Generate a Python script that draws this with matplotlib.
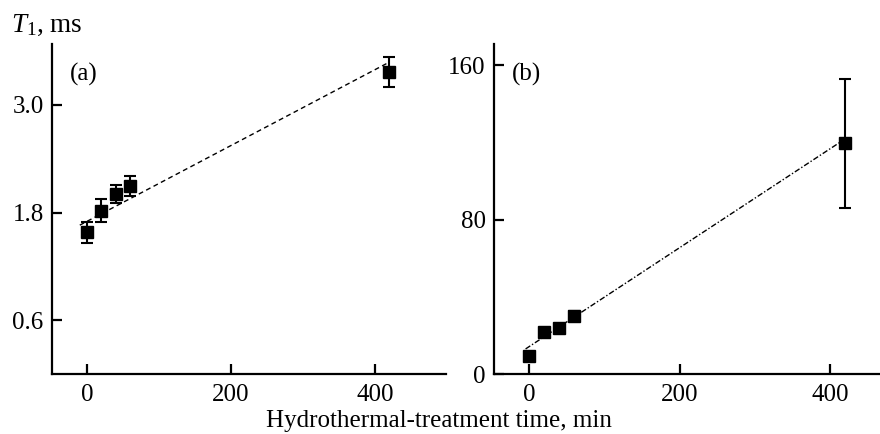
import matplotlib
matplotlib.use("Agg")
import matplotlib.pyplot as plt

plt.rcParams['font.family'] = ['Liberation Serif', 'DejaVu Serif']
plt.rcParams['mathtext.fontset'] = 'custom'
plt.rcParams['mathtext.rm'] = 'Liberation Serif'
plt.rcParams['mathtext.it'] = 'Liberation Serif:italic'

# hydrothermal-treatment time, min
time_min = [0, 20, 40, 60, 420]

# panel (a): T1, ms
t1_a = [1.58, 1.82, 2.01, 2.10, 3.37]
err_a = [0.12, 0.13, 0.10, 0.11, 0.17]
fit_a_x = [-10, 418]
fit_a_y = [1.66, 3.47]

# panel (b): T1, ms
t1_b = [9.5, 21.6, 23.7, 30.2, 119.6]
err_b = [1.0, 1.5, 2.0, 2.5, 33.5]
fit_b_x = [-5, 418]
fit_b_y = [13.0, 121.3]

fig = plt.figure(figsize=(8.8, 4.34), dpi=100)
ax_a = fig.add_axes([0.0591, 0.1382, 0.4477, 0.7604])
ax_b = fig.add_axes([0.5614, 0.1382, 0.4386, 0.7604])


def style(ax):
	for s in ["top", "right"]:
		ax.spines[s].set_visible(False)
	for s in ["left", "bottom"]:
		ax.spines[s].set_linewidth(1.6)
	ax.tick_params(direction="in", length=7, width=1.6, labelsize=18)
	ax.tick_params(axis="x", pad=7)
	ax.tick_params(axis="y", pad=6)


# (a)
ax_a.plot(fit_a_x, fit_a_y, color="black", lw=1.0, linestyle=(0, (3.5, 2.5)))
ax_a.errorbar(time_min, t1_a, yerr=err_a, fmt="s", color="black", ms=8,
	elinewidth=1.5, capsize=4.5, capthick=1.5)
ax_a.set_xlim(-48.6, 498.6)
ax_a.set_ylim(0.0, 3.68)
ax_a.set_xticks([0, 200, 400])
ax_a.set_yticks([0.6, 1.8, 3.0])
ax_a.set_yticklabels(["0.6", "1.8", "3.0"])
ax_a.text(0.045, 0.909, "(a)", transform=ax_a.transAxes, fontsize=18, va="center")
style(ax_a)

# (b)
ax_b.plot(fit_b_x, fit_b_y, color="black", lw=1.0, linestyle=(0, (4, 1.5, 1, 1.5)))
ax_b.errorbar(time_min, t1_b, yerr=err_b, fmt="s", color="black", ms=8,
	elinewidth=1.5, capsize=4.5, capthick=1.5)
ax_b.set_xlim(-47, 466.5)
ax_b.set_ylim(0, 171)
ax_b.set_xticks([0, 200, 400])
ax_b.set_yticks([0, 80, 160])
ax_b.text(0.045, 0.909, "(b)", transform=ax_b.transAxes, fontsize=18, va="center")
style(ax_b)

fig.text(0.013, 0.926, "$T_1$, ms", fontsize=19.5, va="baseline", ha="left")
fig.text(0.499, 0.017, "Hydrothermal-treatment time, min", fontsize=18, ha="center", va="baseline")

fig.savefig("out.png", dpi=100)
